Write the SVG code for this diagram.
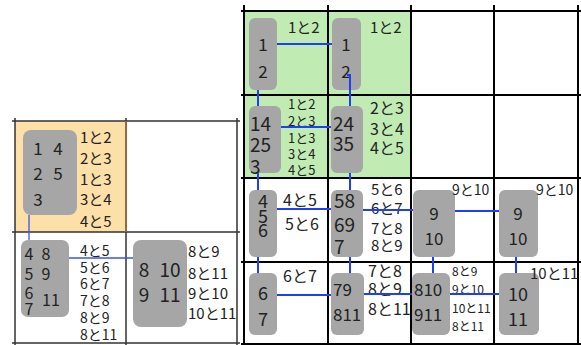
<svg xmlns="http://www.w3.org/2000/svg" width="581" height="345" viewBox="0 0 581 345">
<style>
text{font-family:"Noto Sans CJK JP","Noto Sans",sans-serif;fill:#222;dominant-baseline:central}
.c{text-anchor:middle}
.nd{fill:#a6a6a6}
.g{stroke:#000;stroke-width:2;fill:none}
.lg{stroke:#333;stroke-width:1.5;fill:none}
.e{stroke:#1f3ff5;stroke-width:2;fill:none}
.le{stroke:#3a55e8;stroke-width:1.3;fill:none}
.f13{font-size:13px}.f12{font-size:12px}.f14{font-size:14px}.f15{font-size:15px}.f16{font-size:16px}.f17{font-size:17px}.f18{font-size:18px}.f19{font-size:19px}
</style>
<rect width="581" height="345" fill="#fff"/>
<g id="backgrounds">
<rect x="244" y="11" width="167" height="167" fill="#c0ecb4"/>
<rect x="15" y="121" width="111" height="111" fill="#fddfa8"/>
</g>
<g id="grid">
<path class="g" d="M244 5V345M328 5V345M411 5V345M494 5V345M578 5V345M241 11H581M241 95H581M241 178H581M241 262H581M241 344H581"/>
<path class="lg" d="M12 121H240M12 232H240M12 343H240M15 118V345M126 118V345M237 118V345"/>
<path d="M126 121V232" stroke="#a07030" stroke-width="1.5"/>
</g>
<g id="n00"><rect class="nd" x="249" y="18" width="28" height="72" rx="6"/><text class="c f17" x="263" y="43">1</text><text class="c f17" x="263" y="70">2</text><text class="f15" x="288" y="26">1と2</text></g>
<g id="n01"><rect class="nd" x="332" y="18" width="29" height="72" rx="6"/><text class="c f17" x="346" y="43">1</text><text class="c f17" x="346" y="70">2</text><text class="f15" x="370" y="26">1と2</text></g>
<g id="n10"><rect class="nd" x="249" y="106" width="32" height="67" rx="6"/><text class="f19" x="250" y="122">14</text><text class="f19" x="250" y="143">25</text><text class="f19" x="250" y="165">3</text>
<text class="f13" x="288" y="103">1と2</text><text class="f13" x="288" y="120">2と3</text><text class="f13" x="288" y="137">1と3</text><text class="f13" x="288" y="153">3と4</text><text class="f13" x="288" y="169">4と5</text></g>
<g id="n11"><rect class="nd" x="331" y="106" width="32" height="67" rx="6"/><text class="f19" x="333" y="122">24</text><text class="f19" x="333" y="142">35</text>
<text class="f16" x="370" y="107">2と3</text><text class="f16" x="370" y="128">3と4</text><text class="f16" x="370" y="147">4と5</text></g>
<g id="n20"><rect class="nd" x="249" y="190" width="28" height="67" rx="6"/><text class="c f18" x="263" y="200">4</text><text class="c f18" x="263" y="215">5</text><text class="c f18" x="263" y="229">6</text>
<text class="f16" x="283" y="199">4と5</text><text class="f16" x="285" y="223">5と6</text></g>
<g id="n21"><rect class="nd" x="331" y="190" width="32" height="67" rx="6"/><text class="f19" x="334" y="199">58</text><text class="f19" x="334" y="223">69</text><text class="f19" x="334" y="245">7</text>
<text class="f15" x="371" y="188">5と6</text><text class="f15" x="371" y="207">6と7</text><text class="f15" x="371" y="227">7と8</text><text class="f15" x="371" y="244">8と9</text></g>
<g id="n22"><rect class="nd" x="413" y="190" width="42" height="67" rx="6"/><text class="c f17" x="434" y="212">9</text><text class="c f17" x="434" y="237">10</text><text class="f14" x="452" y="189">9と10</text></g>
<g id="n23"><rect class="nd" x="499" y="190" width="39" height="67" rx="6"/><text class="c f17" x="518" y="212">9</text><text class="c f17" x="518" y="237">10</text><text class="f14" x="536" y="189">9と10</text></g>
<g id="n30"><rect class="nd" x="249" y="273" width="28" height="62" rx="6"/><text class="c f18" x="263" y="292">6</text><text class="c f18" x="263" y="318">7</text><text class="f16" x="283" y="275">6と7</text></g>
<g id="n31"><rect class="nd" x="331" y="273" width="33" height="62" rx="6"/><text class="f17" x="333" y="288">79</text><text class="f17" x="333" y="313">811</text>
<text class="f16" x="368" y="270">7と8</text><text class="f16" x="368" y="288">8と9</text><text class="f16" x="368" y="308">8と11</text></g>
<g id="n32"><rect class="nd" x="412" y="273" width="38" height="62" rx="6"/><text class="f17" x="414" y="288">810</text><text class="f17" x="414" y="313">911</text>
<text class="f12" x="452" y="270">8と9</text><text class="f12" x="452" y="288">9と10</text><text class="f12" x="452" y="307">10と11</text><text class="f12" x="452" y="325">8と11</text></g>
<g id="n33"><rect class="nd" x="499" y="273" width="40" height="62" rx="6"/><text class="c f18" x="518" y="293">10</text><text class="c f18" x="518" y="318">11</text><text class="f15" x="530" y="272">10と11</text></g>
<g id="lA"><rect class="nd" x="23" y="130" width="54" height="85" rx="8"/><text class="c f17" x="38" y="147">1</text><text class="c f17" x="58" y="147">4</text><text class="c f17" x="38" y="172">2</text><text class="c f17" x="58" y="172">5</text><text class="c f17" x="38" y="198">3</text>
<text class="f15" x="80" y="136">1と2</text><text class="f15" x="80" y="157">2と3</text><text class="f15" x="80" y="178">1と3</text><text class="f15" x="80" y="198">3と4</text><text class="f15" x="80" y="220">4と5</text></g>
<g id="lB"><rect class="nd" x="21" y="240" width="48" height="77" rx="7"/><text class="c f16" x="29" y="253">4</text><text class="c f16" x="29" y="273">5</text><text class="c f16" x="29" y="292">6</text><text class="c f16" x="29" y="308">7</text><text class="c f16" x="46" y="253">8</text><text class="c f16" x="46" y="273">9</text><text class="c f16" x="51" y="299">11</text>
<text class="f14" x="80" y="250">4と5</text><text class="f14" x="80" y="267">5と6</text><text class="f14" x="80" y="283">6と7</text><text class="f14" x="80" y="300">7と8</text><text class="f14" x="80" y="317">8と9</text><text class="f14" x="80" y="334">8と11</text></g>
<g id="lC"><rect class="nd" x="133" y="240" width="54" height="87" rx="8"/><text class="c f19" x="144" y="268">8</text><text class="c f19" x="170" y="268">10</text><text class="c f19" x="144" y="293">9</text><text class="c f19" x="170" y="293">11</text>
<text class="f15" x="188" y="250">8と9</text><text class="f15" x="188" y="272">8と11</text><text class="f15" x="188" y="292">9と10</text><text class="f15" x="188" y="312">10と11</text></g>
<g id="connectors">
<path class="e" d="M277 44H332M258 90V106M347 75H350V106M281 127H331M258 173V190M350 173V190M277 209H331M363 210H413M455 211H499M258 257V273M350 257V273M433 257V273M516 257V273M277 295H331M364 294H412M450 294H499"/>
<path class="le" d="M29 215V240M69 258H133"/>
</g>
</svg>
